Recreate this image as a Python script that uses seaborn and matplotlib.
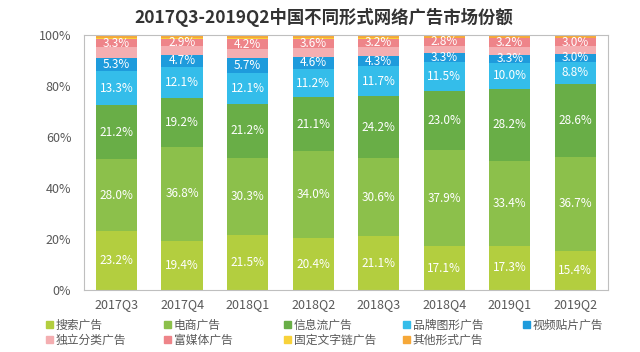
import pandas as pd
import seaborn as sns
import matplotlib.pyplot as plt
from matplotlib.patches import Patch
from matplotlib.ticker import FuncFormatter

quarters = ["2017Q3", "2017Q4", "2018Q1", "2018Q2", "2018Q3", "2018Q4", "2019Q1", "2019Q2"]
series = ["搜索广告", "电商广告", "信息流广告", "品牌图形广告", "视频贴片广告",
          "独立分类广告", "富媒体广告", "固定文字链广告", "其他形式广告"]
colors = ["#B3CE3F", "#8CC04B", "#69AE47", "#34BDEA", "#1E9BDC",
          "#F4AEB1", "#EE8489", "#F8D23A", "#F6A838"]

search = [23.2, 19.4, 21.5, 20.4, 21.1, 17.1, 17.3, 15.4]
ecommerce = [28.0, 36.8, 30.3, 34.0, 30.6, 37.9, 33.4, 36.7]
feed = [21.2, 19.2, 21.2, 21.1, 24.2, 23.0, 28.2, 28.6]
brand = [13.3, 12.1, 12.1, 11.2, 11.7, 11.5, 10.0, 8.8]
video = [5.3, 4.7, 5.7, 4.6, 4.3, 3.3, 3.3, 3.0]
classified = [4.1, 3.4, 3.5, 3.6, 3.4, 3.0, 3.2, 3.1]   # not labelled, estimated
rich_media = [3.3, 2.9, 4.2, 3.6, 3.2, 2.8, 3.2, 3.0]
text_link = [0.3, 0.3, 0.3, 0.3, 0.3, 0.2, 0.2, 0.2]    # estimated
other = [1.3, 1.2, 1.2, 1.2, 1.2, 1.2, 1.2, 1.2]        # estimated

values = [search, ecommerce, feed, brand, video, classified, rich_media, text_link, other]
labelled = ["搜索广告", "电商广告", "信息流广告", "品牌图形广告", "视频贴片广告", "富媒体广告"]

rows = []
for name, vals in zip(series, values):
    for q, v in zip(quarters, vals):
        rows.append({"quarter": q, "series": name, "value": v})
df = pd.DataFrame(rows)
df["top"] = df.groupby("quarter")["value"].cumsum()
df["mid"] = df["top"] - df["value"] / 2

sns.set_theme(style="white")
plt.rcParams["font.family"] = ["Noto Sans CJK SC", "DejaVu Sans"]

fig = plt.figure(figsize=(6.4, 3.52), dpi=100)
ax = fig.add_axes([0.131, 0.176, 0.819, 0.725])

# stacked bars: draw cumulative totals from the top layer down
for name, col in reversed(list(zip(series, colors))):
    sns.barplot(data=df[df["series"] == name], x="quarter", y="top", order=quarters,
                color=col, width=0.63, saturation=1, linewidth=0, edgecolor="none", ax=ax)

for _, r in df[df["series"].isin(labelled)].iterrows():
    ax.text(quarters.index(r["quarter"]), r["mid"], f"{r['value']:.1f}%",
            ha="center", va="center", color="white", fontsize=8.5)

ax.set_ylim(0, 100)
ax.set_yticks(range(0, 101, 20))
ax.yaxis.set_major_formatter(FuncFormatter(lambda v, p: f"{v:.0f}%"))
ax.set_xlabel("")
ax.set_ylabel("")
ax.tick_params(axis="both", colors="#595959", labelsize=9, length=0)
ax.tick_params(axis="y", pad=9)
ax.tick_params(axis="x", pad=6)
for sp in ax.spines.values():
    sp.set_color("#BFBFBF")
    sp.set_linewidth(0.8)

fig.text(0.506, 0.949, "2017Q3-2019Q2中国不同形式网络广告市场份额",
         ha="center", va="center", fontsize=12.5, fontweight="bold", color="#333333")

# legend: five evenly spaced columns, filled row by row
handles = [Patch(color=c, label=s) for s, c in zip(series, colors)]
col_x = [40, 158, 278, 397, 517]
for j, x in enumerate(col_x):
    idx = [i for i in (j, j + 5) if i < len(series)]
    leg = fig.legend([handles[i] for i in idx], [series[i] for i in idx],
                     loc="upper left", bbox_to_anchor=(x / 640, 1 - 313 / 352), ncol=1,
                     frameon=False, fontsize=8.5, handlelength=0.6, handleheight=0.6,
                     handletextpad=0.25, labelspacing=0.15, borderpad=0,
                     labelcolor="#595959")

fig.savefig("out.png", dpi=100)
